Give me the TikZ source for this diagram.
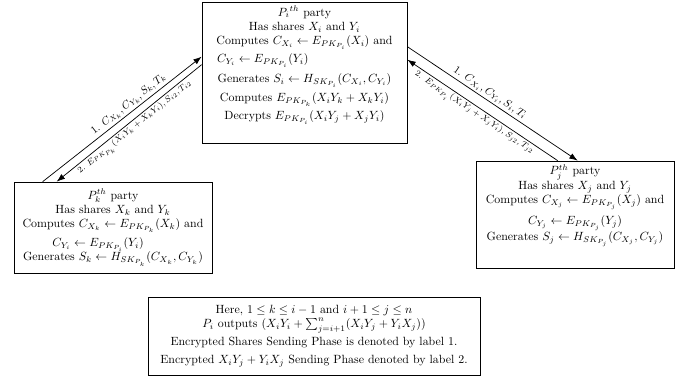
\documentclass[tikz,border=0pt]{standalone}
\usepackage{amsmath,amssymb}
\usetikzlibrary{arrows.meta,calc}
\begin{document}
\begin{tikzpicture}[x=0.84pt,y=-0.84pt,
  box/.style={draw, line width=0.6pt, inner sep=0pt},
  boxtext/.style={align=center, anchor=north, inner sep=0pt},
  arr/.style={line width=0.6pt, -{Latex[length=7pt,width=5pt]}},
  lone/.style={font=\small, sloped, inner sep=1.5pt},
  ltwo/.style={font=\scriptsize, sloped, inner sep=1.5pt}]
\useasboundingbox (0,0) rectangle (690,385);

\node[box, minimum width=172.2pt, minimum height=118.4pt] (Pi) at (304.5,72.5) {};
\node[boxtext] (Pit) at ($(Pi.north)+(0,4)$)
 {$P_i{}^{th}$ party\\
  Has shares $X_i$ and $Y_i$\\
  Computes $C_{X_i} \leftarrow E_{PK_{P_i}}(X_i)$ and\\[3pt]
  \makebox[147pt][l]{$C_{Y_i} \leftarrow E_{PK_{P_i}}(Y_i)$}\\[5pt]
  Generates $S_i \leftarrow H_{SK_{P_i}}(C_{X_i},C_{Y_i})$\\[4pt]
  Computes $E_{PK_{P_k}}(X_iY_k + X_kY_i)$\\[3pt]
  Decrypts $E_{PK_{P_i}}(X_iY_j + X_jY_i)$};

\node[box, minimum width=166.3pt, minimum height=76.4pt, align=center] (K) at (113,227.5)
 {$P_k^{th}$ party\\
  Has shares $X_k$ and $Y_k$\\
  Computes $C_{X_k} \leftarrow E_{PK_{P_k}}(X_k)$ and\\[4pt]
  \makebox[102pt][l]{$C_{Y_i} \leftarrow E_{PK_{P_i}}(Y_i)$}\\
  Generates $S_k \leftarrow H_{SK_{P_k}}(C_{X_k},C_{Y_k})$};

\node[box, minimum width=166.3pt, minimum height=89.9pt] (J) at (575,214.5) {};
\node[boxtext] (Jt) at ($(J.north)+(0,4)$)
 {$P_j^{th}$ party\\
  Has shares $X_j$ and $Y_j$\\
  Computes $C_{X_j} \leftarrow E_{PK_{P_j}}(X_j)$ and\\[4pt]
  $C_{Y_j} \leftarrow E_{PK_{P_j}}(Y_j)$\\
  Generates $S_j \leftarrow H_{SK_{P_j}}(C_{X_j},C_{Y_j})$};

\node[box, minimum width=278.9pt, minimum height=65.5pt, align=center] (N) at (314,336)
 {Here, $1 \le k \le i-1$ and $i+1 \le j \le n$\\
  $P_i$ outputs $(X_iY_i + \sum_{j=i+1}^{n}(X_iY_j + Y_iX_j))$\\[3pt]
  Encrypted Shares Sending Phase is denoted by label 1.\\[3pt]
  Encrypted $X_iY_j + Y_iX_j$ Sending Phase denoted by label 2.};

\coordinate (k1) at ($(K.north west)+(29,0)$);
\coordinate (k2) at ($(K.north west)+(43,0)$);
\coordinate (m1) at ($(Pi.north west)+(0,55)$);
\coordinate (m2) at ($(Pi.north west)+(0,63)$);
\coordinate (m3) at ($(Pi.north east)+(0,45)$);
\coordinate (m4) at ($(Pi.north east)+(0,58)$);
\coordinate (j1) at ($(J.north west)+(102,0)$);
\coordinate (j2) at ($(J.north west)+(82,0)$);

\draw[arr] (k1) -- node[lone, above, pos=0.57] {1. $C_{X_k}, C_{Y_k}, S_k, T_k$} (m1);
\draw[arr] (m2) -- node[ltwo, below, pos=0.49] {2. $E_{PK_{P_k}}(X_iY_k + X_kY_i), S_{i2}, T_{i2}$} (k2);
\draw[arr] (m3) -- node[lone, above, pos=0.46] {1. $C_{X_i}, C_{Y_i}, S_i, T_i$} (j1);
\draw[arr] (j2) -- node[ltwo, below, pos=0.53] {2. $E_{PK_{P_i}}(X_iY_j + X_jY_i), S_{j2}, T_{j2}$} (m4);
\end{tikzpicture}
\end{document}
